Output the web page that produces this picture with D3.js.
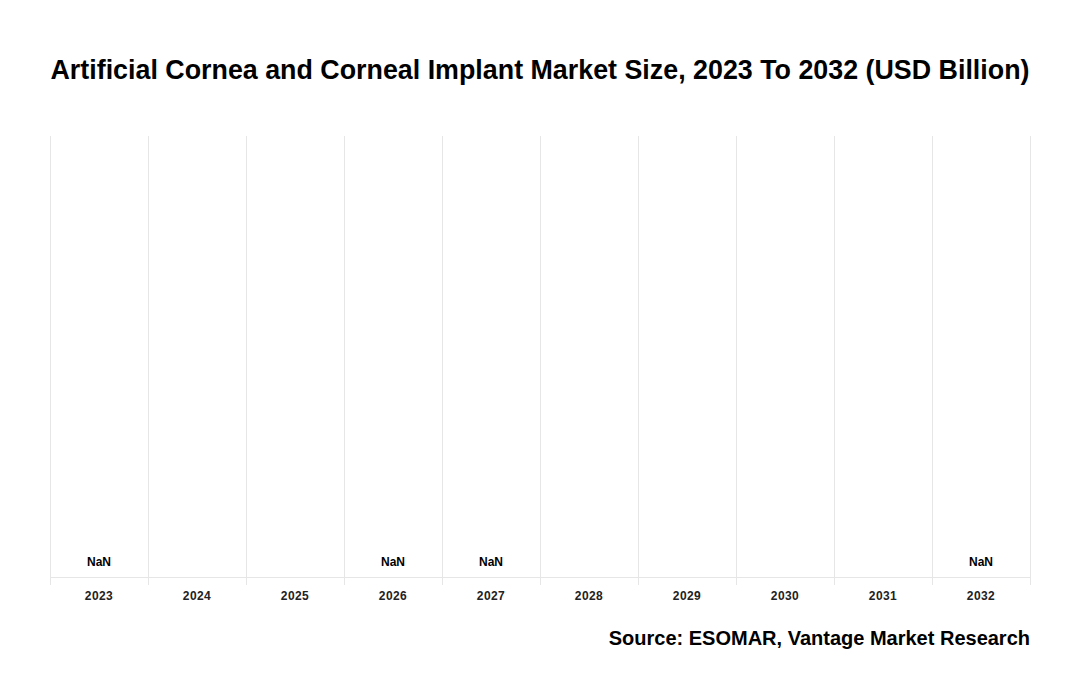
<!DOCTYPE html>
<html>
<head>
<meta charset="utf-8">
<script src="https://cdn.jsdelivr.net/npm/d3@7"></script>
<style>
  body { margin: 0; background: #fff; }
  text { font-family: "Liberation Sans", Arial, sans-serif; }
</style>
</head>
<body>
<script>
// chart data (values could not be read: the source shows NaN / empty)
const years = ["2023", "2024", "2025", "2026", "2027", "2028", "2029", "2030", "2031", "2032"];
const marketSize = [NaN, null, null, NaN, NaN, null, null, null, null, NaN];
const titleText = "Artificial Cornea and Corneal Implant Market Size, 2023 To 2032 (USD Billion)";
const sourceText = "Source: ESOMAR, Vantage Market Research";

const width = 1080, height = 700;
const margin = { top: 136, right: 50, bottom: 123, left: 50 };
const innerW = width - margin.left - margin.right;
const innerH = height - margin.top - margin.bottom;

const svg = d3.select("body").append("svg")
    .attr("width", width)
    .attr("height", height);

svg.append("text")
    .attr("x", width / 2)
    .attr("y", 79)
    .attr("text-anchor", "middle")
    .attr("textLength", 979)
    .attr("lengthAdjust", "spacingAndGlyphs")
    .style("font-size", "28px")
    .style("font-weight", "bold")
    .attr("fill", "#000")
    .text(titleText);

const g = svg.append("g").attr("transform", `translate(${margin.left},${margin.top})`);

const x = d3.scaleBand().domain(years).range([0, innerW])
    .paddingInner(0.1).paddingOuter(0.05);
const y = d3.scaleLinear().domain([0, 1]).range([innerH, 0]);

// vertical grid at band edges
const edges = years.map((d, i) => i * x.step()).concat([innerW]);
g.selectAll(".grid")
    .data(edges)
    .join("line")
    .attr("x1", d => d + 0.5).attr("x2", d => d + 0.5)
    .attr("y1", 0).attr("y2", innerH + 8)
    .attr("stroke", "#e6e6e6")
    .attr("stroke-width", 1);

// baseline
g.append("line")
    .attr("x1", 0).attr("x2", innerW)
    .attr("y1", innerH + 0.5).attr("y2", innerH + 0.5)
    .attr("stroke", "#e6e6e6");

// bars (values empty -> nothing visible)
const rows = years.map((yr, i) => ({ year: yr, value: marketSize[i] }));
g.selectAll(".bar")
    .data(rows.filter(d => Number.isFinite(d.value)))
    .join("rect")
    .attr("x", d => x(d.year))
    .attr("width", x.bandwidth())
    .attr("y", d => y(d.value))
    .attr("height", d => innerH - y(d.value))
    .attr("fill", "#1f77b4");

// value labels
g.selectAll(".label")
    .data(rows.filter(d => typeof d.value === "number"))
    .join("text")
    .attr("x", d => x(d.year) + x.bandwidth() / 2)
    .attr("y", d => (Number.isFinite(d.value) ? y(d.value) : innerH) - 11)
    .attr("text-anchor", "middle")
    .style("font-size", "12px")
    .style("font-weight", "bold")
    .attr("fill", "#000")
    .text(d => String(d.value));

// x axis labels
const xAxis = g.append("g")
    .attr("transform", `translate(0,${innerH})`)
    .call(d3.axisBottom(x).tickSize(0).tickPadding(14));
xAxis.select(".domain").remove();
xAxis.selectAll("text")
    .style("font-family", "'Liberation Sans', Arial, sans-serif")
    .style("font-size", "12px")
    .style("font-weight", "bold")
    .style("letter-spacing", "0.4px")
    .attr("fill", "#222");

svg.append("text")
    .attr("x", width - margin.right)
    .attr("y", 645)
    .attr("text-anchor", "end")
    .style("font-size", "20px")
    .style("font-weight", "bold")
    .attr("fill", "#000")
    .text(sourceText);
</script>
</body>
</html>
